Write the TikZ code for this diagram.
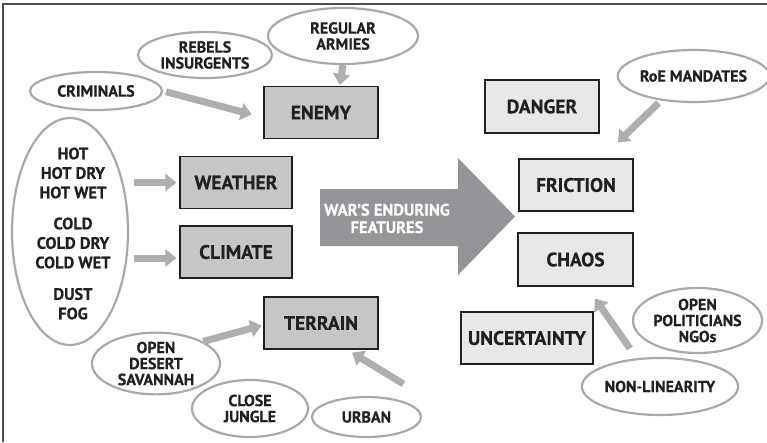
\documentclass[tikz,border=0pt]{standalone}
\usepackage{fontspec}
\setmainfont{PT Sans}[BoldFeatures={FakeBold=0.4}]
\usetikzlibrary{shapes.geometric,arrows.meta}
\definecolor{ink}{HTML}{231F20}
\definecolor{darkfill}{HTML}{C6C6C6}
\definecolor{lightfill}{HTML}{E8E8E9}
\definecolor{ovalgray}{HTML}{A7A9AC}
\definecolor{arrowgray}{HTML}{AEAEAE}
\definecolor{bigarrow}{HTML}{939598}
\definecolor{framegray}{HTML}{4D4D4F}
\begin{document}
\begin{tikzpicture}[x=1pt,y=-1pt,
  lab/.style={font=\bfseries\fontsize{16}{16}\selectfont, text=ink, align=center},
  darkbox/.style={draw=ink, line width=1.2pt, fill=darkfill, minimum width=114pt, minimum height=52pt, inner sep=0pt, font=\bfseries\fontsize{19.5}{19.5}\selectfont, text=ink},
  lightbox/.style={darkbox, fill=lightfill},
  oval/.style={ellipse, draw=ovalgray, line width=2.2pt, inner sep=0pt, lab},
  conn/.style={draw=arrowgray, line width=7pt, -{Triangle[length=11pt,width=17pt]}},
]
\useasboundingbox (0,0) rectangle (767,442);
\fill[white] (0,0) rectangle (767,442);
% frame
\draw[framegray, line width=1.5pt] (3,442) -- (3,4) -- (767,4);

% boxes
\node[darkbox] (enemy) at (321,112.5) {ENEMY};
\node[darkbox, minimum width=112pt] (weather) at (236,182.5) {WEATHER};
\node[darkbox, minimum width=112pt] (climate) at (236,252) {CLIMATE};
\node[darkbox] (terrain) at (321,323) {TERRAIN};
\node[lightbox, minimum height=53pt] (danger) at (542,106.5) {DANGER};
\node[lightbox] (friction) at (576,185) {FRICTION};
\node[lightbox, minimum width=115pt, minimum height=53pt] (chaos) at (575.5,259.5) {CHAOS};
\node[lightbox, minimum width=132pt] (uncertainty) at (527,338) {UNCERTAINTY};

% ellipses
\node[oval, minimum width=150pt, minimum height=56pt] (regular) at (343,36) {REGULAR\\ARMIES};
\node[oval, minimum width=134pt, minimum height=46pt] (rebels) at (205,55) {REBELS\\INSURGENTS};
\node[oval, minimum width=132pt, minimum height=38pt] (criminals) at (96,91) {CRIMINALS};
\node[oval, minimum width=116pt, minimum height=227pt] (conditions) at (70,231.5) {};
\node[lab, font=\bfseries\fontsize{16.5}{19.5}\selectfont] (condtext) at (73,233.5)
  {HOT\\HOT DRY\\HOT WET\\[11.5pt]COLD\\COLD DRY\\COLD WET\\[12pt]DUST\\FOG};
\node[oval, minimum width=143pt, minimum height=52pt] (roe) at (693.5,76) {RoE MANDATES};
\node[oval, minimum width=129pt, minimum height=65pt] (politicians) at (697.5,320.5) {OPEN\\POLITICIANS\\NGOs};
\node[oval, minimum width=146pt, minimum height=57pt] (nonlin) at (660,386.5) {NON-LINEARITY};
\node[oval, minimum width=128pt, minimum height=57pt] (desert) at (156,363.5) {OPEN\\DESERT\\SAVANNAH};
\node[oval, minimum width=116pt, minimum height=57pt] (jungle) at (250,408.5) {CLOSE\\JUNGLE};
\node[oval, minimum width=109pt, minimum height=40pt] (urban) at (366.5,417) {URBAN};

% big arrow
\fill[bigarrow] (320,189) -- (458,189) -- (458,158) -- (515,216.5) -- (458,275) -- (458,246) -- (320,246) -- cycle;
\node[font=\bfseries\fontsize{16.5}{17.5}\selectfont, text=white, align=center] (features) at (387,218.5) {WAR'S ENDURING\\FEATURES};

% connectors
\draw[conn, shorten <=3pt, shorten >=12pt] (criminals.east) -- (enemy.185);
\draw[conn, shorten >=1pt] (regular.south) -- (enemy.55);
\draw[conn] ([xshift=-45pt]weather.west) -- ([xshift=-3pt]weather.west);
\draw[conn] ([shift={(-45,6)}]climate.west) -- ([shift={(-3,6)}]climate.west);
\draw[conn, shorten >=2pt] (desert.25) -- ([yshift=-2pt]terrain.west);
\draw[conn] ([shift={(37,-33)}]urban.center) -- ([shift={(31,3)}]terrain.south);
\draw[conn] ([shift={(-35,27)}]roe.center) -- ([shift={(-16,-16)}]friction.north east);
\draw[conn] ([shift={(-30,-38)}]nonlin.center) -- ([shift={(19.5,12)}]chaos.south);
\end{tikzpicture}
\end{document}
